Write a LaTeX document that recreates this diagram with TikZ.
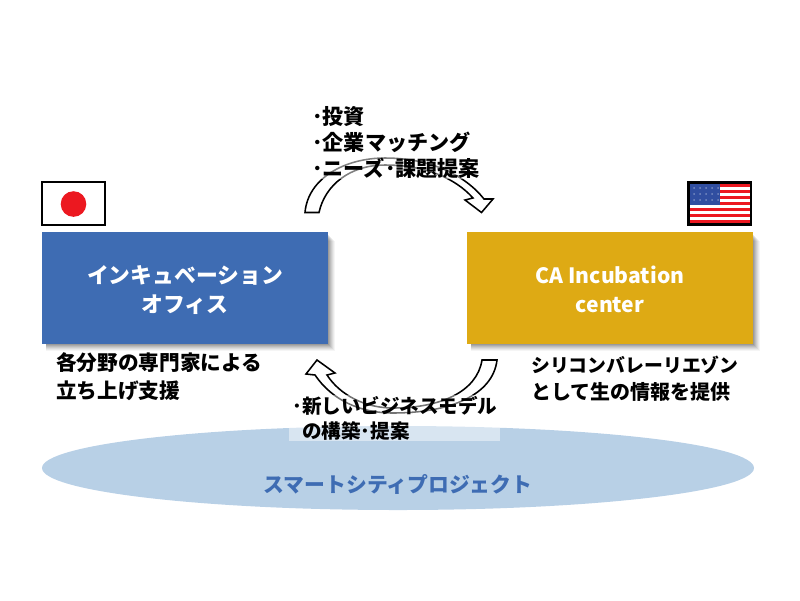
\documentclass[tikz,border=0pt]{standalone}
\usepackage{fontspec}
\setmainfont{Noto Sans CJK JP}
\definecolor{officeblue}{RGB}{62,108,179}
\definecolor{centergold}{RGB}{222,170,20}
\definecolor{cityblue}{RGB}{184,208,230}
\definecolor{flagred}{RGB}{236,24,32}
\definecolor{flagblue}{RGB}{48,78,160}
\tikzset{
  bodytext/.style={align=left, font=\fontsize{14.6}{20}\selectfont\bfseries, inner sep=0pt, text=black},
  boxtext/.style={align=center, font=\fontsize{15.5}{20.6}\selectfont\bfseries, inner sep=0pt, text=white},
  flowarrow/.style={draw=black, fill=white, line width=1.1pt, line join=miter}
}
\begin{document}
\begin{tikzpicture}[x=0.025cm, y=-0.025cm]
  \useasboundingbox (0,0) rectangle (800,600);
  % city ellipse
  \fill[cityblue] (398,468) ellipse (356 and 42);
  \node[font=\fontsize{14.8}{18}\selectfont\bfseries, text=officeblue, inner sep=0pt] (city) at (398,484) {スマートシティプロジェクト};
  % box shadows
  \foreach \d/\o in {7/0.04, 6/0.05, 5/0.06, 4/0.07, 3/0.08, 2/0.09, 1/0.1} {
    \fill[black, opacity=\o] (46,234+\d) rectangle (328+\d,344+\d);
    \fill[black, opacity=\o] (471,234+\d) rectangle (753+\d,344+\d);
  }
  % boxes
  \fill[officeblue] (42,232) rectangle (328,344);
  \node[boxtext] (office) at (185,290) {インキュベーション\\オフィス};
  \fill[centergold] (467,232) rectangle (753,344);
  \node[boxtext, font=\fontsize{15}{20.6}\selectfont\bfseries] (center) at (610,289) {CA Incubation\\center};
  % upper arrow
  \draw[flowarrow] (305,212.5) .. controls (308,178) and (345,158) .. (385,158)
    .. controls (430,158) and (465,175) .. (484,199) -- (493,199) -- (481.5,212.5)
    -- (465,200) -- (473,198) .. controls (455,178) and (425,165) .. (385,165)
    .. controls (350,165) and (325,185) .. (319,212.5) -- cycle;
  % lower arrow
  \draw[flowarrow] (497,360) .. controls (493,395) and (450,413) .. (393,413)
    .. controls (360,413) and (332,400) .. (315,375) -- (306,374) -- (317,360)
    -- (335,373) -- (327,375) .. controls (340,395) and (365,408) .. (393,408)
    .. controls (440,408) and (477,392) .. (482,360) -- cycle;
  % flags
  \draw[line width=1.7pt, fill=white] (42.2,182.2) rectangle (104.8,224.8);
  \fill[flagred] (73.5,204) circle (12.8);
  \fill[black] (687,181) rectangle (752,226);
  \fill[white] (689.5,184) rectangle (749.5,223);
  \foreach \i in {0,2,...,12} {
    \fill[flagred] (689.5,184+3*\i) rectangle (749.5,184+3*\i+3);
  }
  \fill[flagblue] (689.5,184) rectangle (720,205);
  \foreach \sx in {694,700,...,718} {
    \foreach \sy in {188,194,200} {
      \fill[white, opacity=0.35] (\sx,\sy) circle (1);
    }
  }
  % upper text
  \node[bodytext, fill=white, fill opacity=0.5, text opacity=1, anchor=north west, font=\fontsize{15}{18.5}\selectfont\bfseries] (invest) at (312,106) {･投資\\･企業マッチング\\･ニーズ･課題提案};
  % lower text
  \node[bodytext, anchor=north west, minimum width=211*0.025cm, minimum height=46*0.025cm, fill=white, fill opacity=0.45, text opacity=1, text width=205*0.025cm, font=\fontsize{13.9}{18}\selectfont\bfseries] (model) at (289,395) {･新しいビジネスモデル\\\hspace*{0.5em}の構築･提案};
  % side text
  \node[bodytext, anchor=north west, font=\fontsize{14.7}{20}\selectfont\bfseries] (expert) at (56,352) {各分野の専門家による\\立ち上げ支援};
  \node[bodytext, anchor=north west, font=\fontsize{14.2}{19.5}\selectfont\bfseries] (liaison) at (531,355.5) {{\fontsize{13.4}{19.5}\selectfont シリコンバレーリエゾン}\\として生の情報を提供};
\end{tikzpicture}
\end{document}
